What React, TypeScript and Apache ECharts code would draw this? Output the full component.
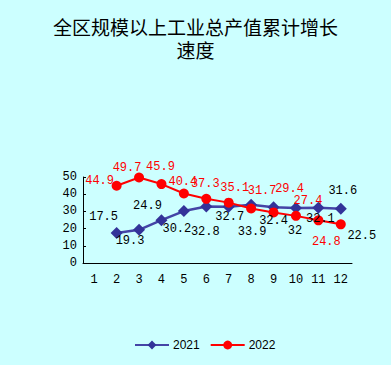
import React, { useEffect, useRef } from "react";
import * as echarts from "echarts";

const months = ["1", "2", "3", "4", "5", "6", "7", "8", "9", "10", "11", "12"];
const values2021: (number | null)[] = [null, 17.5, 19.3, 24.9, 30.2, 32.8, 32.7, 33.9, 32.4, 32, 32.1, 31.6];
const values2022: (number | null)[] = [null, 44.9, 49.7, 45.9, 40.4, 37.3, 35.1, 31.7, 29.4, 27.4, 24.8, 22.5];
const yTicks = { min: 0, max: 50, interval: 10 };

// label placement (offsets relative to the point)
const offsets2021: [number, number][] = [
  [0, 0], [-13, -16], [-9, 11], [-14, -14], [-7, 18], [-1, 25], [1, 10], [1, 27], [0, 14], [-1, 23], [2, 11], [2, -18],
];
const offsets2022: [number, number][] = [
  [0, 0], [-17, -5], [-12, -10], [-1, -17], [-1, -12], [-1, -15], [6, -15], [11, -17], [16, -23], [12, -15], [8, 22], [21, 12],
];
const labelColors2022 = ["#FF0000", "#FF0000", "#FF0000", "#FF0000", "#FF0000", "#FF0000", "#FF0000", "#FF0000", "#FF0000", "#FF0000", "#FF0000", "#000000"];

const NUM_FONT = "'Liberation Mono', monospace";
const NUM_SIZE = 12;

export default function App() {
  const ref = useRef<HTMLDivElement>(null);
  useEffect(() => {
    document.body.style.margin = "0";
    if (!ref.current) return;
    const chart = echarts.init(ref.current, null, { renderer: "svg" });
    const mk = (vals: (number | null)[], offs: [number, number][], colors: string[] | null, def: string) =>
      vals.map((v, i) =>
        v == null
          ? "-"
          : {
              value: v,
              label: {
                offset: offs[i],
                color: colors ? colors[i] : def,
              },
            }
      );
    chart.setOption({
      animation: false,
      backgroundColor: "#CCFFFF",
      title: {
        text: "全区规模以上工业总产值累计增长\n速度",
        left: "center",
        top: 15,
        padding: 0,
        textStyle: {
          fontFamily: "'Noto Sans CJK SC'",
          fontSize: 19,
          fontWeight: "normal",
          color: "#000",
          lineHeight: 23,
          align: "center",
        },
      },
      legend: {
        left: 134,
        top: 339,
        padding: 0,
        itemWidth: 34,
        itemHeight: 11,
        itemGap: 10,
        textStyle: { fontFamily: "'Liberation Sans', Arial", fontSize: 12, color: "#000", padding: [0, 0, 0, -1] },
        data: ["2021", "2022"],
      },
      grid: { left: 83, right: 39, top: 177, bottom: 102 },
      xAxis: {
        type: "category",
        data: months,
        boundaryGap: true,
        axisLine: { lineStyle: { color: "#000", width: 1 } },
        axisTick: { inside: true, length: 4, lineStyle: { color: "#000" } },
        axisLabel: { color: "#000", fontFamily: NUM_FONT, fontSize: NUM_SIZE, margin: 11 },
        splitLine: { show: false },
      },
      yAxis: {
        type: "value",
        min: yTicks.min,
        max: yTicks.max,
        interval: yTicks.interval,
        axisLine: { show: true, lineStyle: { color: "#000", width: 1 } },
        axisTick: { show: true, inside: true, length: 3, lineStyle: { color: "#000" } },
        axisLabel: { color: "#000", fontFamily: NUM_FONT, fontSize: NUM_SIZE, margin: 6 },
        splitLine: { show: false },
      },
      series: [
        {
          name: "2021",
          type: "line",
          data: mk(values2021, offsets2021, null, "#000"),
          symbol: "diamond",
          symbolSize: 12,
          itemStyle: { color: "#333399" },
          lineStyle: { color: "#4444A6", width: 2.5 },
          label: {
            show: true,
            position: "inside",
            align: "center",
            verticalAlign: "middle",
            fontFamily: NUM_FONT,
            fontSize: NUM_SIZE,
            color: "#000",
          },
        },
        {
          name: "2022",
          type: "line",
          data: mk(values2022, offsets2022, labelColors2022, "#FF0000"),
          symbol: "circle",
          symbolSize: 10,
          itemStyle: { color: "#FF0000" },
          lineStyle: { color: "#FF0000", width: 2 },
          label: {
            show: true,
            position: "inside",
            align: "center",
            verticalAlign: "middle",
            fontFamily: NUM_FONT,
            fontSize: NUM_SIZE,
            color: "#FF0000",
          },
        },
      ],
    });
    return () => chart.dispose();
  }, []);
  return <div ref={ref} style={{ width: 391, height: 365 }} />;
}
